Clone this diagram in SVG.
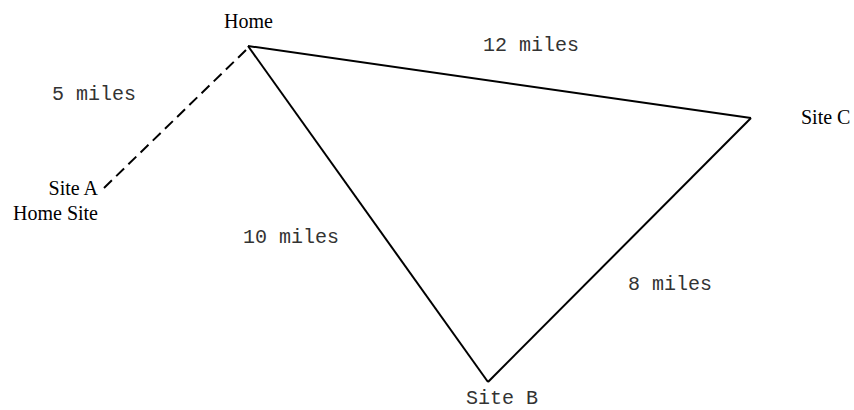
<svg xmlns="http://www.w3.org/2000/svg" width="854" height="410" viewBox="0 0 854 410">
<style>
.serif{font-family:"Liberation Serif","Times New Roman",serif;font-size:20px;fill:#000}
.mono{font-family:"Liberation Mono","Courier New",monospace;font-size:20px;fill:#333}
.edge{stroke:#000;stroke-width:2;fill:none}
.dash{stroke-dasharray:11,6}
</style>
<rect width="854" height="410" fill="#fff"/>
<g id="connectors">
<line class="edge" x1="248" y1="46" x2="751" y2="118"/>
<line class="edge" x1="248" y1="46" x2="488" y2="382"/>
<line class="edge" x1="488" y1="382" x2="751" y2="118"/>
<line class="edge dash" x1="104" y1="188" x2="246" y2="50"/>
<text class="mono" x="483" y="51">12 miles</text>
<text class="mono" x="52" y="100">5 miles</text>
<text class="mono" x="243" y="243">10 miles</text>
<text class="mono" x="628" y="290">8 miles</text>
</g>
<g id="home"><text class="serif" x="224" y="28">Home</text></g>
<g id="siteC"><text class="serif" x="801" y="124">Site C</text></g>
<g id="siteA"><text class="serif" x="98" y="195" text-anchor="end">Site A</text><text class="serif" x="98" y="220" text-anchor="end">Home Site</text></g>
<g id="siteB"><text class="mono" x="466" y="404">Site B</text></g>
</svg>
